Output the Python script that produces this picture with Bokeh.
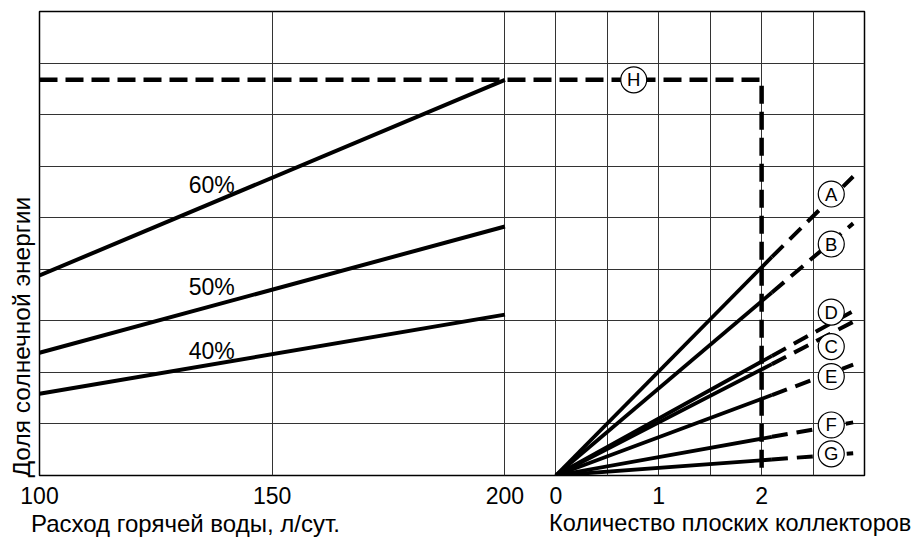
import math
from bokeh.plotting import figure
from bokeh.layouts import column
from bokeh.models import (Range1d, LinearAxis, FixedTicker, Grid, Title, Div,
                          ColumnDataSource, CustomJSTickFormatter)
from bokeh.core.properties import value
from bokeh.embed import file_html
from bokeh.resources import INLINE

# ---------------- data ----------------
# left panel: hot water consumption, l/day
flow_x = [100, 200]
share_60 = [3.88, 7.675]
share_50 = [2.38, 4.83]
share_40 = [1.585, 3.12]
pct_labels = ["60%", "50%", "40%"]
pct_label_x = [137, 137, 137]
pct_label_y = [5.64, 3.65, 2.42]

# right panel: number of flat collectors
curve_names = ["A", "B", "D", "C", "E", "F", "G"]
solid_end_x = 2.1
dash_end_x = 2.89
curve_y_solid = [4.24, 3.55, 2.32, 2.16, 1.56, 0.75, 0.31]
curve_y_dash = [5.80, 4.89, 3.19, 2.98, 2.15, 1.03, 0.43]
marker_x = 2.677
marker_y = [5.46, 4.49, 3.17, 2.50, 1.92, 0.98, 0.42]

# example reading H
h_level = 7.675
h_collectors = 2
h_marker_x = 0.757

flow_ticks = [100, 150, 200]
coll_ticks = [0, 1, 2]
flow_grid = [150, 200]
coll_grid = [0, 0.5, 1, 1.5, 2, 2.5]
share_grid = [1, 2, 3, 4, 5, 6, 7, 8]

y_title = "Доля солнечной энергии"
flow_title = "Расход горячей воды, л/сут."
coll_title = "Количество плоских коллекторов"

FONT = "Liberation Sans"
FS = "23px"

# ---------------- main figure ----------------
xr = Range1d(100, 277.25)
cr = Range1d(-5.019, 3.0)
p = figure(width=922, height=513, x_range=xr, y_range=Range1d(0, 9),
           x_axis_type=None, y_axis_type=None,
           output_backend="svg", toolbar_location=None,
           min_border_left=38, min_border_right=58,
           min_border_top=11, min_border_bottom=38)
p.extra_x_ranges = {"coll": cr}
p.outline_line_color = "black"
p.outline_line_width = 1.5
p.background_fill_color = "white"
p.border_fill_color = "white"

grid_kw = dict(grid_line_color="#333333", grid_line_width=1)
p.add_layout(Grid(dimension=0, ticker=FixedTicker(ticks=flow_grid), **grid_kw))
p.add_layout(Grid(dimension=0, x_range_name="coll", ticker=FixedTicker(ticks=coll_grid), **grid_kw))
p.add_layout(Grid(dimension=1, ticker=FixedTicker(ticks=share_grid), **grid_kw))

# one bottom axis carrying both scales' ticks (collector ticks mapped through the two ranges)
scale = (xr.end - xr.start) / (cr.end - cr.start)
coll_tick_pos = [xr.start + (c - cr.start) * scale for c in coll_ticks]
tick_text = [str(t) for t in flow_ticks] + [str(c) for c in coll_ticks]
ax = LinearAxis(ticker=FixedTicker(ticks=flow_ticks + coll_tick_pos),
                formatter=CustomJSTickFormatter(args=dict(labels=tick_text),
                                                code="return labels[index];"),
                axis_line_color=None, major_tick_line_color=None, minor_tick_line_color=None,
                major_tick_in=0, major_tick_out=0, major_label_standoff=11,
                major_label_text_font=FONT, major_label_text_font_size=FS,
                major_label_text_color="black")
p.add_layout(ax, "below")

# left panel lines
for ys in (share_60, share_50, share_40):
    p.line(flow_x, ys, line_color="black", line_width=4)

p.text(x=pct_label_x, y=pct_label_y, text=pct_labels, text_align="center",
       text_baseline="middle", text_font=value(FONT), text_font_size=FS, text_color="black")

# right panel lines
solid_src = ColumnDataSource(dict(
    xs=[[0, solid_end_x] for _ in curve_names],
    ys=[[0, y] for y in curve_y_solid]))
dash_src = ColumnDataSource(dict(
    xs=[[solid_end_x, dash_end_x] for _ in curve_names],
    ys=[[a, b] for a, b in zip(curve_y_solid, curve_y_dash)]))
p.multi_line("xs", "ys", source=solid_src, x_range_name="coll", line_color="black", line_width=3.8)
p.multi_line("xs", "ys", source=dash_src, x_range_name="coll", line_color="black",
             line_width=4, line_dash="16 9")

# H reading line
p.line([cr.start, h_collectors, h_collectors], [h_level, h_level, 0], x_range_name="coll",
       line_color="black", line_width=4.5, line_dash="18 8", line_join="miter")

# circle markers
mk_x = [marker_x] * len(curve_names) + [h_marker_x]
mk_y = marker_y + [h_level]
mk_t = curve_names + ["H"]
p.scatter(mk_x, mk_y, marker="circle", size=26, fill_color="white", line_color="black",
          line_width=1.2, x_range_name="coll")
p.text(x=mk_x, y=mk_y, text=mk_t, x_range_name="coll", text_align="center",
       text_baseline="middle", text_font=value(FONT), text_font_size="18.5px", text_color="black")

# vertical title
p.add_layout(Title(text=y_title, align="left", offset=-2,
                   text_font=FONT, text_font_size="24.5px", text_font_style="normal",
                   text_color="black", standoff=10), "left")

# ---------------- strip with the two horizontal titles ----------------
span_css = ("position:absolute;top:-3px;white-space:nowrap;font-family:'Liberation Sans';"
            "line-height:normal;color:black;")
titles_html = (
    '<div style="position:relative;width:922px;height:24px;">'
    f'<span style="{span_css}left:31px;font-size:24px;">{flow_title}</span>'
    f'<span style="{span_css}left:549px;font-size:23.5px;">{coll_title}</span>'
    '</div>'
)
titles = Div(text=titles_html, width=922, height=24, margin=0)

layout = column(p, titles, spacing=0)
open("out.html", "w").write(file_html(layout, INLINE))
